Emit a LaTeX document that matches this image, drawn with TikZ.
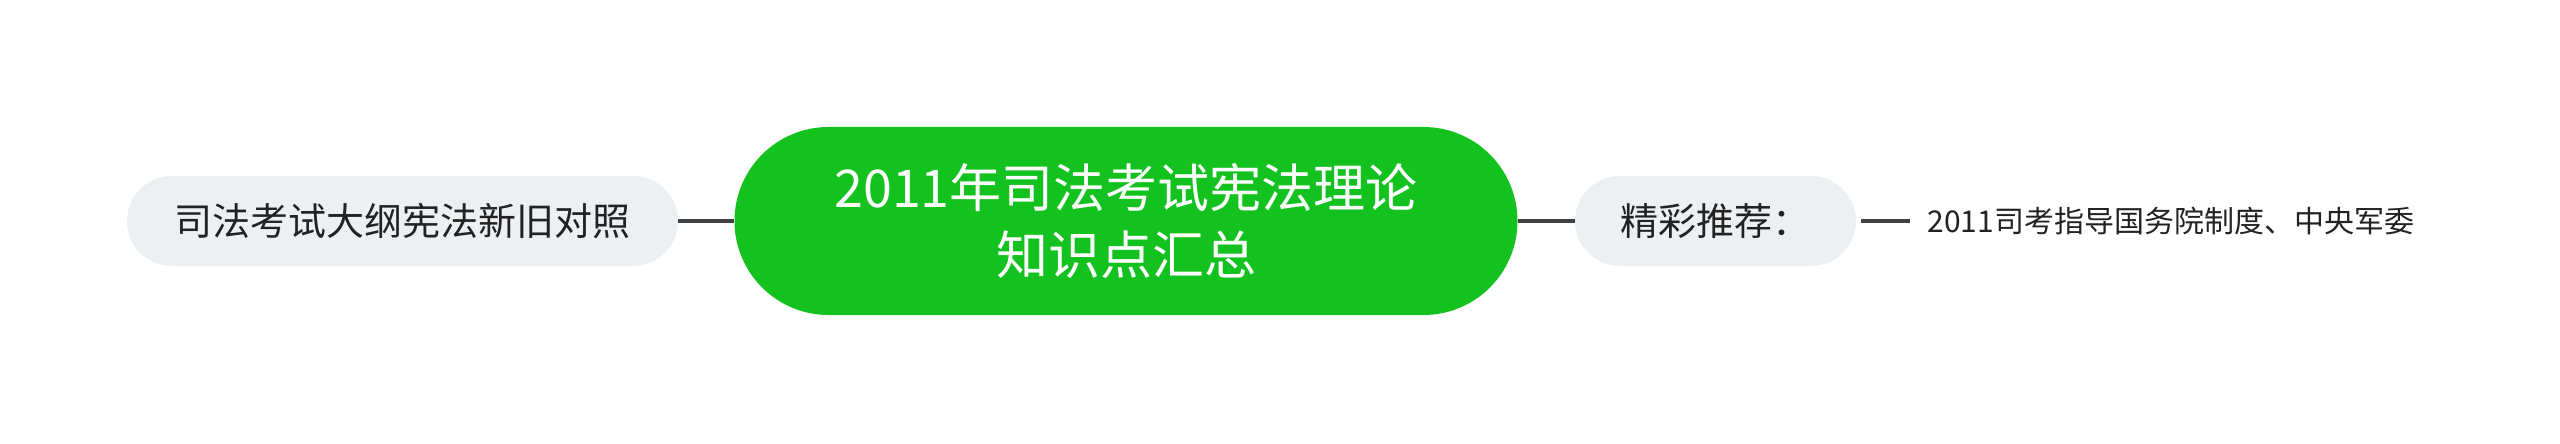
\documentclass[tikz,border=0pt]{standalone}
\usepackage{fontspec}
\setmainfont{Noto Sans CJK SC}
\newfontfamily\cjk{Noto Sans CJK SC}
\definecolor{rootgreen}{HTML}{13C11F}
\definecolor{subgrey}{HTML}{EDF0F3}
\definecolor{linegrey}{HTML}{404040}
\definecolor{textdark}{HTML}{222222}
\tikzset{
  rootbox/.style={rectangle, rounded corners=47pt, fill=rootgreen, text=white,
    minimum width=391.5pt, minimum height=94pt, align=center, inner sep=0pt,
    font=\fontsize{26pt}{33.5pt}\selectfont\cjk},
  subbox/.style={rectangle, rounded corners=22.5pt, fill=subgrey, text=textdark,
    minimum height=45pt, inner sep=0pt, font=\fontsize{19pt}{23pt}\selectfont\cjk},
  leaftext/.style={text=textdark, inner ysep=0pt, inner xsep=8.5pt,
    font=\fontsize{15pt}{18pt}\selectfont\cjk},
  link/.style={draw=linegrey, line width=2.2pt}
}
\begin{document}
\begin{tikzpicture}[x=0.5pt,y=-0.5pt]
\useasboundingbox (0,0) rectangle (2560,444);
\node[rootbox] (root) at (1126,221) {2011年司法考试宪法理论\\知识点汇总};
\node[subbox, minimum width=275.5pt] (left) at (402.5,221) {司法考试大纲宪法新旧对照};
\node[subbox, minimum width=140.5pt] (right) at (1715.5,221) {精彩推荐：};
\node[leaftext, anchor=west] (leaf) at (1910,221) {2011司考指导国务院制度、中央军委};
\draw[link] (left.east) -- (root.west);
\draw[link] (root.east) -- (right.west);
\draw[link] ([xshift=2.5pt]right.east) -- (leaf.west);
\end{tikzpicture}
\end{document}
